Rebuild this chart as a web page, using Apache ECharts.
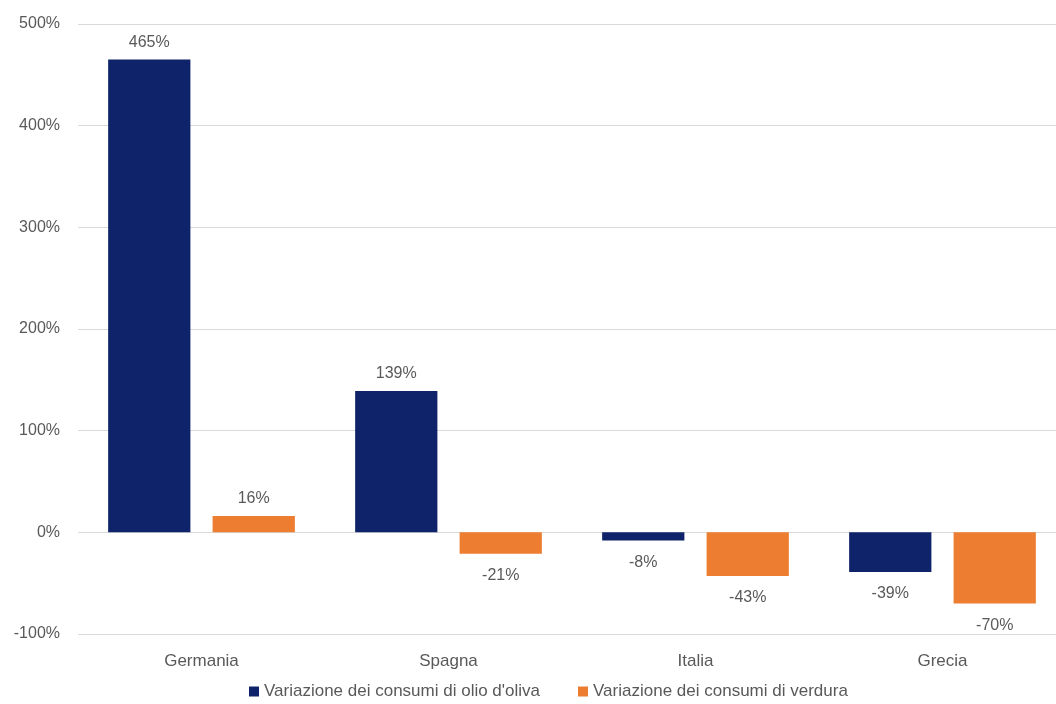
<!DOCTYPE html>
<html>
<head>
<meta charset="utf-8">
<script src="https://cdn.jsdelivr.net/npm/echarts@6/dist/echarts.min.js"></script>
<style>
html,body{margin:0;padding:0;background:#fff;overflow:hidden;width:1056px;height:704px;}
#chart{width:1066px;height:704px;}
</style>
</head>
<body>
<div id="chart"></div>
<script>
const categories = ['Germania', 'Spagna', 'Italia', 'Grecia'];
const oliveOil = [465, 139, -8, -39];
const vegetables = [16, -21, -43, -70];
const seriesNames = ["Variazione dei consumi di olio d'oliva", 'Variazione dei consumi di verdura'];

const font = 'Liberation Sans, Arial, sans-serif';
const textColor = '#595959';

function barLabel() {
  return {
    show: true,
    position: 'top',
    distance: 9,
    color: textColor,
    fontFamily: font,
    fontSize: 16,
    formatter: p => p.value + '%'
  };
}

// negative values carry their label below the bar end
function signedData(values) {
  return values.map(v => ({
    value: v,
    label: v < 0 ? { position: 'bottom', distance: 14 } : { position: 'top' }
  }));
}

const chart = echarts.init(document.getElementById('chart'), null, { renderer: 'canvas' });
chart.setOption({
  animation: false,
  backgroundColor: '#fff',
  grid: { left: 78, top: 24, right: 0, bottom: 70, containLabel: false },
  legend: {
    top: 678,
    left: 244,
    itemWidth: 10,
    itemHeight: 10,
    itemGap: 38,
    icon: 'rect',
    textStyle: { color: textColor, fontFamily: font, fontSize: 17 },
    data: seriesNames
  },
  xAxis: {
    type: 'category',
    data: categories,
    axisLine: { show: false },
    axisTick: { show: false },
    axisLabel: { color: textColor, fontFamily: font, fontSize: 17, margin: 19 }
  },
  yAxis: {
    type: 'value',
    min: -100,
    max: 500,
    interval: 100,
    axisLine: { show: false },
    axisTick: { show: false },
    axisLabel: {
      color: textColor,
      fontFamily: font,
      fontSize: 16,
      margin: 18,
      formatter: v => v + '%'
    },
    splitLine: { lineStyle: { color: '#d9d9d9', width: 1 } }
  },
  series: [
    {
      name: seriesNames[0],
      type: 'bar',
      data: signedData(oliveOil),
      itemStyle: { color: '#0e2369' },
      barWidth: '33.3%',
      barGap: '27%',
      label: barLabel()
    },
    {
      name: seriesNames[1],
      type: 'bar',
      data: signedData(vegetables),
      itemStyle: { color: '#ed7d31' },
      barWidth: '33.3%',
      label: barLabel()
    }
  ]
});
</script>
</body>
</html>
